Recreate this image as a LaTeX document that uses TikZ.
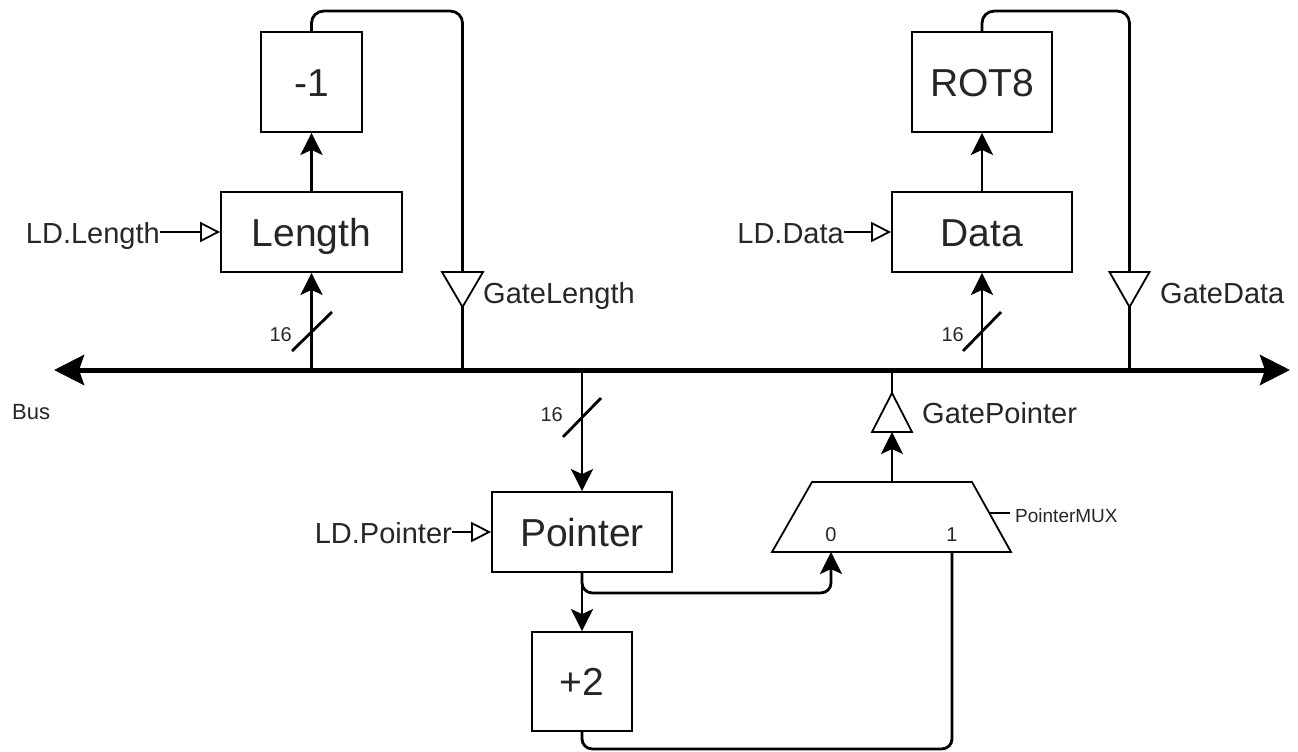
\documentclass[tikz,border=0pt]{standalone}
\usepackage{fontspec}
\setmainfont{Liberation Sans}
\usetikzlibrary{arrows.meta}

\tikzset{
	box/.style={draw, line width=1.8pt, inner sep=0pt, text=black!85, font=\fontsize{39}{40}\selectfont, text height=28pt, text depth=0pt},
	muxshape/.style={draw, line width=1.8pt, line join=miter},
	wire/.style={line width=2.8pt},
	busline/.style={line width=5pt, {Stealth[length=30pt,width=30pt,inset=5pt]}-{Stealth[length=30pt,width=30pt,inset=5pt]}},
	ldarrow/.style={line width=2.8pt, -{Triangle[open,length=20pt,width=20pt,line width=1.8pt]}},
	buffer/.style={line width=1.8pt, fill=white, line join=miter},
	midlabel/.style={inner sep=0pt, text=black!85, font=\fontsize{29}{30}\selectfont},
	smalllabel/.style={inner sep=0pt, text=black!85, font=\fontsize{20}{20}\selectfont},
}

\begin{document}
\begin{tikzpicture}[x=1pt, y=-1pt, >={Stealth[length=22pt,width=22pt,inset=5pt]}]
		\useasboundingbox (0,0) rectangle (1298,752);
		% bus
		\coordinate (busL) at (54,370);
		\coordinate (busR) at (1290,370);
		\draw [busline] (busL) -- (busR);
		\node [smalllabel, font=\fontsize{22}{22}\selectfont, anchor=base west] (buslbl) at (12,419) {Bus};
		
		% length register
		\node [box, minimum width=181pt, minimum height=80pt] (len) at (311.5,232) {Length};
		\node [box, minimum width=101pt, minimum height=100pt] (dec) at (311.5,82) {-1};
		\node [midlabel, anchor=base east] (ldlen) at (160,243) {LD.Length};
		\draw [ldarrow] (ldlen.east |- len.west) -- (len.west);
		\draw [wire,->] (len.north) -- (dec.south);
		\draw [wire,->] (len.south |- busL) -- (len.south);
		\draw [wire] (292,351) -- (332,312);
		\node [smalllabel, anchor=base east] (wlen) at (292,341) {16};
		
		\coordinate (glin) at (462.5,272);
		\coordinate (glout) at (462.5,307);
		\draw [wire, rounded corners=12pt] (dec.north) -- ++(0,-20) -| (glin);
		\draw [wire] (glout) -- (glout |- busL);
		\draw [buffer] (glin) ++(-20.5,0) -- ++(41,0) -- (glout) -- cycle;
		\node [midlabel, anchor=base west] (gllbl) at (483,303) {GateLength};
		
		% data register
		\node [box, minimum width=180pt, minimum height=80pt] (dat) at (982,232) {Data};
		\node [box, minimum width=140pt, minimum height=100pt] (rot) at (982,82) {ROT8};
		\node [midlabel, anchor=base east] (lddat) at (844,243) {LD.Data};
		\draw [ldarrow] (lddat.east |- dat.west) -- (dat.west);
		\draw [wire,->] (dat.north) -- (rot.south);
		\draw [wire,->] (dat.south |- busL) -- (dat.south);
		\draw [wire] (963,351) -- (1001,312);
		\node [smalllabel, anchor=base east] (wdat) at (964,341) {16};
		
		\coordinate (gdin) at (1129.5,272);
		\coordinate (gdout) at (1129.5,307);
		\draw [wire, rounded corners=12pt] (rot.north) -- ++(0,-20) -| (gdin);
		\draw [wire] (gdout) -- (gdout |- busL);
		\draw [buffer] (gdin) ++(-20,0) -- ++(40,0) -- (gdout) -- cycle;
		\node [midlabel, anchor=base west] (gdlbl) at (1160,303) {GateData};
		
		% pointer register
		\node [box, minimum width=180pt, minimum height=80pt] (ptr) at (582,532) {Pointer};
		\node [box, minimum width=100pt, minimum height=99pt] (inc) at (582,681.5) {+2};
		\node [midlabel, anchor=base east] (ldptr) at (452,543) {LD.Pointer};
		\draw [ldarrow] (ldptr.east |- ptr.west) -- (ptr.west);
		\draw [wire,->] (ptr.north |- busL) -- (ptr.north);
		\draw [wire] (563,437) -- (601,398);
		\node [smalllabel, anchor=base east] (wptr) at (563,421) {16};
		\draw [wire,->] (ptr.south) -- (inc.north);
		
		% mux
		\coordinate (mux0) at (831,552);
		\coordinate (mux1) at (952,552);
		\coordinate (muxout) at (892,482);
		\draw [muxshape] (812,482) -- (972,482) -- (1011,552) -- (772,552) -- cycle;
		\node [smalllabel, anchor=base] (sel0) at (831,541) {0};
		\node [smalllabel, anchor=base] (sel1) at (952,541) {1};
		\draw [wire] (989,513) -- (1010,513);
		\node [smalllabel, font=\fontsize{19}{19}\selectfont, anchor=base west] (muxlbl) at (1015,522) {PointerMUX};
		\draw [wire,->,rounded corners=10pt] (ptr.south) -- ++(0,20) -| (mux0);
		\draw [wire,rounded corners=10pt] (inc.south) -- ++(0,17) -| (mux1);
		
		\coordinate (gpin) at (892,432);
		\coordinate (gpout) at (892,393);
		\draw [wire,->] (muxout) -- (gpin);
		\draw [wire] (gpout) -- (gpout |- busL);
		\draw [buffer] (gpin) ++(-20,0) -- ++(40,0) -- (gpout) -- cycle;
		\node [midlabel, anchor=base west] (gplbl) at (922,423) {GatePointer};
	\end{tikzpicture}
\end{document}
